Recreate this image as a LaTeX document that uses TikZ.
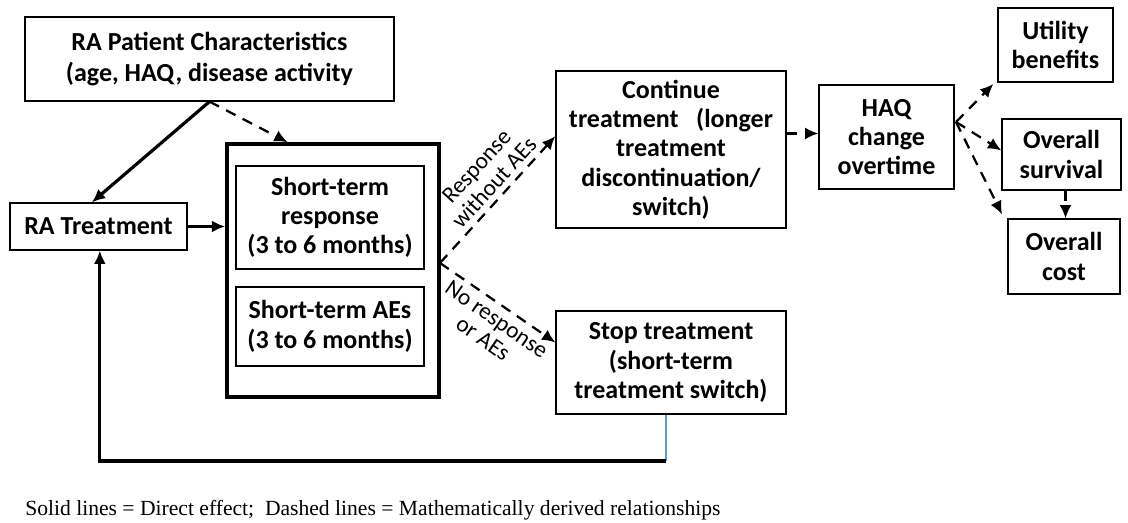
\documentclass[tikz,border=0pt]{standalone}
\usepackage{fontspec}
\setmainfont{Carlito}
\newfontfamily\notefont{Liberation Serif}
\usetikzlibrary{arrows.meta}
\tikzset{
  box/.style={draw, line width=0.9pt, align=center, inner sep=1pt,
    font=\fontsize{19.5}{22}\selectfont\bfseries},
  bigbox/.style={draw, line width=2.6pt},
  direct/.style={line width=2.4pt, -{Latex[length=10pt,width=9pt]}},
  derived/.style={line width=1.7pt, dash pattern=on 8pt off 6pt,
    -{Latex[length=10pt,width=9pt]}},
  lbl/.style={font=\fontsize{17.5}{18}\selectfont, align=center, inner sep=2pt}
}
\begin{document}
\begin{tikzpicture}[x=0.75pt,y=-0.75pt]
  \useasboundingbox (0,0) rectangle (1128,523);
  \draw
    (209.5,59) node[box, minimum width=276.75pt, minimum height=63pt,
      font=\fontsize{19.5}{23.5}\selectfont\bfseries] (patient)
      {RA Patient Characteristics\\(age, HAQ, disease activity}
    (98.5,226.5) node[box, minimum width=132.75pt, minimum height=35.25pt] (treat)
      {RA Treatment}
    (333,270.5) node[bigbox, minimum width=159pt, minimum height=189.75pt] (outer) {}
    (330,217.5) node[box, minimum width=141pt, minimum height=77.25pt] (resp)
      {Short-term\\response\\(3 to 6 months)}
    (330,326.5) node[box, minimum width=141pt, minimum height=59.25pt] (aes)
      {Short-term AEs\\(3 to 6 months)}
    (671,149.5) node[box, minimum width=172.5pt, minimum height=117.75pt] (cont)
      {Continue\\treatment\ \ \ (longer\\treatment\\discontinuation/\\switch)}
    (671,362.5) node[box, minimum width=172.5pt, minimum height=77.25pt] (stop)
      {Stop treatment\\(short-term\\treatment switch)}
    (886.5,137) node[box, minimum width=101.25pt, minimum height=78pt] (haq)
      {HAQ\\change\\overtime}
    (1055.5,45) node[box, minimum width=86.25pt, minimum height=55.5pt] (util)
      {Utility\\benefits}
    (1061.5,154.5) node[box, minimum width=89.25pt, minimum height=53.25pt] (surv)
      {Overall\\survival}
    (1064,256.5) node[box, minimum width=84pt, minimum height=56.25pt] (cost)
      {Overall\\cost}
    (25,510) node[anchor=west, inner sep=0pt, font=\notefont\fontsize{16.2}{18}\selectfont] (note)
      {Solid lines = Direct effect;\ \ Dashed lines = Mathematically derived relationships};
  \coordinate (fork) at (440,263);
  \coordinate (hfork) at (956,122);
  \coordinate (back) at (666,461);
  \begin{scope}[direct]
    \draw (patient.south) -- ([xshift=-5pt]treat.north);
    \draw (treat.east) -- (treat.east -| outer.west);
    \draw[-, color={rgb,255:red,91;green,155;blue,213}, line width=2.2pt]
      (stop.south -| back) -- (back);
    \draw (back) -| ([xshift=1pt]treat.south);
  \end{scope}
  \begin{scope}[derived]
    \draw (patient.south) -- ([xshift=-34pt]outer.north);
    \draw (fork) -- node[lbl, sloped, above=2pt, pos=0.56] {Response\\without AEs}
      ([yshift=10pt]cont.west);
    \draw (fork) -- node[lbl, sloped, below=2pt, pos=0.56] {No response\\or AEs}
      ([yshift=15pt]stop.west);
    \draw ([yshift=12pt]cont.east) -- ([yshift=12pt]cont.east -| haq.west);
    \draw (hfork) -- ([xshift=-3pt,yshift=-1pt]util.south west);
    \draw (hfork) -- ([yshift=3pt]surv.west);
    \draw (hfork) -- ([xshift=-4pt,yshift=3pt]cost.north west);
    \draw ([xshift=3pt]surv.south) -- ([xshift=3pt]surv.south |- cost.north);
  \end{scope}
\end{tikzpicture}
\end{document}
